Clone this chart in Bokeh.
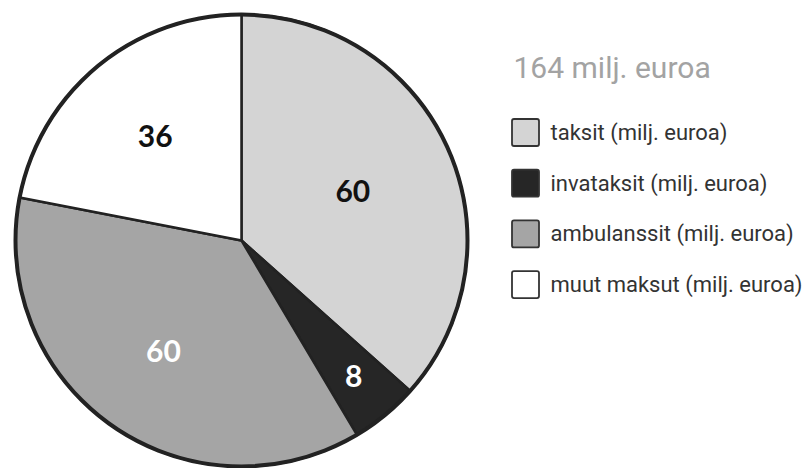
import math
from bokeh.plotting import figure
from bokeh.models import ColumnDataSource
from bokeh.core.properties import value
from bokeh.embed import file_html
from bokeh.resources import INLINE

# ---- data ----
categories = ["taksit (milj. euroa)", "invataksit (milj. euroa)",
              "ambulanssit (milj. euroa)", "muut maksut (milj. euroa)"]
values = [60, 8, 60, 36]
labels = ["60", "8", "60", "36"]
title_text = "164 milj. euroa"

# ---- style ----
fills = ["#d4d4d4", "#262626", "#a5a5a5", "#ffffff"]
label_colors = ["#111111", "#ffffff", "#ffffff", "#111111"]
label_rfrac = [0.54, 0.78, 0.6, 0.6]

W, H = 810, 468
p = figure(width=W, height=H, x_range=(0, W), y_range=(0, H),
           output_backend="svg", toolbar_location=None, min_border=0)
p.axis.visible = False
p.grid.visible = False
p.outline_line_color = None
p.background_fill_color = "white"

cx, cy, R = 241, H - 240, 226
total = sum(values)
starts, ends, mids = [], [], []
acc = 0.0
for v in values:
    a0 = math.pi / 2 - 2 * math.pi * acc / total
    acc += v
    a1 = math.pi / 2 - 2 * math.pi * acc / total
    starts.append(a0); ends.append(a1); mids.append((a0 + a1) / 2)

src = ColumnDataSource(dict(start=starts, end=ends, fill=fills))
p.wedge(x=cx, y=cy, radius=R, start_angle="start", end_angle="end",
        direction="clock", fill_color="fill", line_color="#222222",
        line_width=2.5, source=src)
p.circle(x=[cx], y=[cy], radius=R, fill_color=None, line_color="#222222",
         line_width=4)

lx = [cx + f * R * math.cos(m) for f, m in zip(label_rfrac, mids)]
ly = [cy + f * R * math.sin(m) for f, m in zip(label_rfrac, mids)]
p.text(x=lx, y=ly, text=labels, text_color=label_colors,
       text_font=value("Lato"), text_font_style="bold", text_font_size="30px",
       text_align="center", text_baseline="middle")

# ---- legend ----
p.text(x=[513], y=[H - 67], text=[title_text], text_color="#a3a3a3",
       text_font=value("Roboto"), text_font_size="30px",
       text_align="left", text_baseline="middle")

item_y = [H - 132 - i * 50.7 for i in range(len(categories))]
p.rect(x=[525] * 4, y=item_y, width=27, height=27, fill_color=fills,
       line_color="#333333", line_width=1.8, border_radius=2)
p.text(x=[550] * 4, y=item_y, text=categories, text_color="#333333",
       text_font=value("Roboto"), text_font_size="22px",
       text_align="left", text_baseline="middle")

open("out.html", "w").write(file_html(p, INLINE))
